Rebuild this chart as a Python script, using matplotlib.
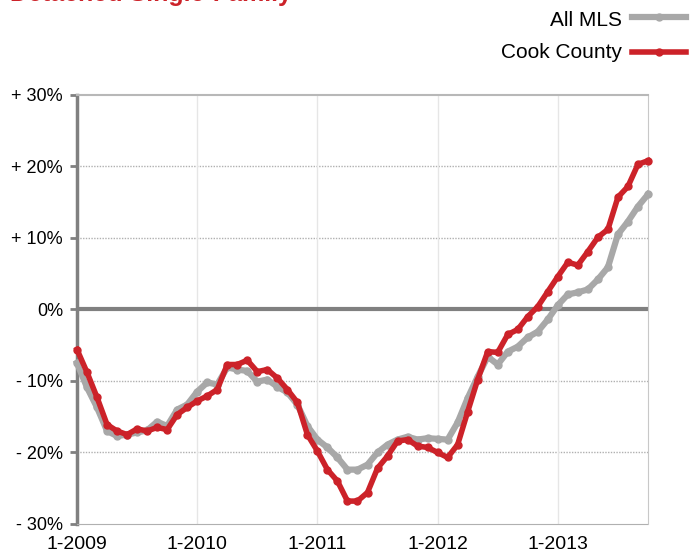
import matplotlib.pyplot as plt

# month index from 1-2009
months = list(range(58))

all_mls = [-7.5, -10.9, -13.7, -17.0, -17.7, -17.5, -17.2, -16.9, -15.7, -16.3,
           -14.0, -13.3, -11.5, -10.2, -10.5, -8.1, -8.4, -8.6, -10.1, -9.8,
           -10.8, -11.6, -13.3, -16.3, -18.2, -19.3, -20.7, -22.4, -22.4, -21.7,
           -20.0, -18.9, -18.2, -17.8, -18.2, -18.0, -18.1, -18.2, -15.8, -12.4,
           -9.4, -6.6, -7.7, -5.9, -5.2, -3.9, -3.1, -1.4, 0.6, 2.1,
           2.4, 2.8, 4.2, 5.9, 10.5, 12.3, 14.4, 16.1]

cook = [-5.6, -8.8, -12.3, -16.1, -17.0, -17.5, -16.7, -17.0, -16.5, -16.8,
        -14.7, -13.7, -12.8, -12.1, -11.2, -7.7, -7.7, -7.1, -8.7, -8.4,
        -9.6, -11.2, -13.0, -17.5, -19.8, -22.4, -24.0, -26.8, -26.8, -25.6,
        -22.2, -20.5, -18.4, -18.2, -19.1, -19.3, -20.0, -20.7, -18.9, -14.3,
        -9.8, -5.9, -6.0, -3.5, -2.8, -1.0, 0.4, 2.5, 4.6, 6.6,
        6.2, 8.1, 10.1, 11.2, 15.7, 17.2, 20.3, 20.8]

year_ticks = [0, 12, 24, 36, 48]
year_labels = ['1-2009', '1-2010', '1-2011', '1-2012', '1-2013']
y_ticks = [-30, -20, -10, 0, 10, 20, 30]
y_labels = ['- 30%', '- 20%', '- 10%', '0%', '+ 10%', '+ 20%', '+ 30%']

red = '#cc2229'
grey = '#a8a8a8'

plt.rcParams['font.family'] = ['Liberation Sans', 'DejaVu Sans']

fig = plt.figure(figsize=(6.9, 5.55), dpi=100)
ax = fig.add_axes([0.1116, 0.0559, 0.8275, 0.7730])

# grid
for yv in [-20, -10, 10, 20]:
    ax.axhline(yv, color='#b0b0b0', lw=1, ls=(0, (1, 1)), zorder=1)
for xv in year_ticks[1:]:
    ax.axvline(xv, color='#e6e6e6', lw=1, zorder=1)
ax.axhline(0, color='#808080', lw=3, zorder=2)

ax.plot(months, all_mls, color=grey, lw=4.5, marker='o', ms=5, clip_on=False, zorder=3)
ax.plot(months, cook, color=red, lw=4, marker='o', ms=5, clip_on=False, zorder=4)

ax.set_xlim(0, 57)
ax.set_ylim(-30, 30)
ax.set_xticks(year_ticks)
ax.set_xticklabels(year_labels, fontsize=14)
ax.set_yticks(y_ticks)
ax.set_yticklabels(y_labels, fontsize=13)
ax.tick_params(axis='x', length=0, pad=9)
ax.tick_params(axis='y', length=5, width=2, color='#808080', pad=5)

ax.spines['left'].set_color('#808080')
ax.spines['left'].set_linewidth(2.5)
ax.spines['top'].set_color('#b8b8b8')
ax.spines['top'].set_linewidth(1.5)
ax.spines['bottom'].set_color('#b0b0b0')
ax.spines['bottom'].set_linestyle((0, (1, 1)))
ax.spines['right'].set_color('#c8c8c8')
ax.spines['right'].set_linestyle((0, (1, 1)))

# legend drawn by hand at the top right
fig.text(622 / 690, 1 - 20 / 555, 'All MLS', ha='right', va='center', fontsize=15)
fig.text(622 / 690, 1 - 52 / 555, 'Cook County', ha='right', va='center', fontsize=15)
fig.add_artist(plt.Line2D([632 / 690, 686 / 690], [1 - 17 / 555] * 2, color=grey, lw=4.5))
fig.add_artist(plt.Line2D([659 / 690], [1 - 17 / 555], color=grey, marker='o', ms=5))
fig.add_artist(plt.Line2D([632 / 690, 686 / 690], [1 - 52 / 555] * 2, color=red, lw=4))
fig.add_artist(plt.Line2D([659 / 690], [1 - 52 / 555], color=red, marker='o', ms=5))

# title cut off at the top edge, as in the source
fig.text(10 / 690, 1 - 1 / 555, 'Detached Single-Family', color=red, fontsize=18,
         fontweight='bold', ha='left', va='baseline')

fig.savefig('out.png', dpi=100)
